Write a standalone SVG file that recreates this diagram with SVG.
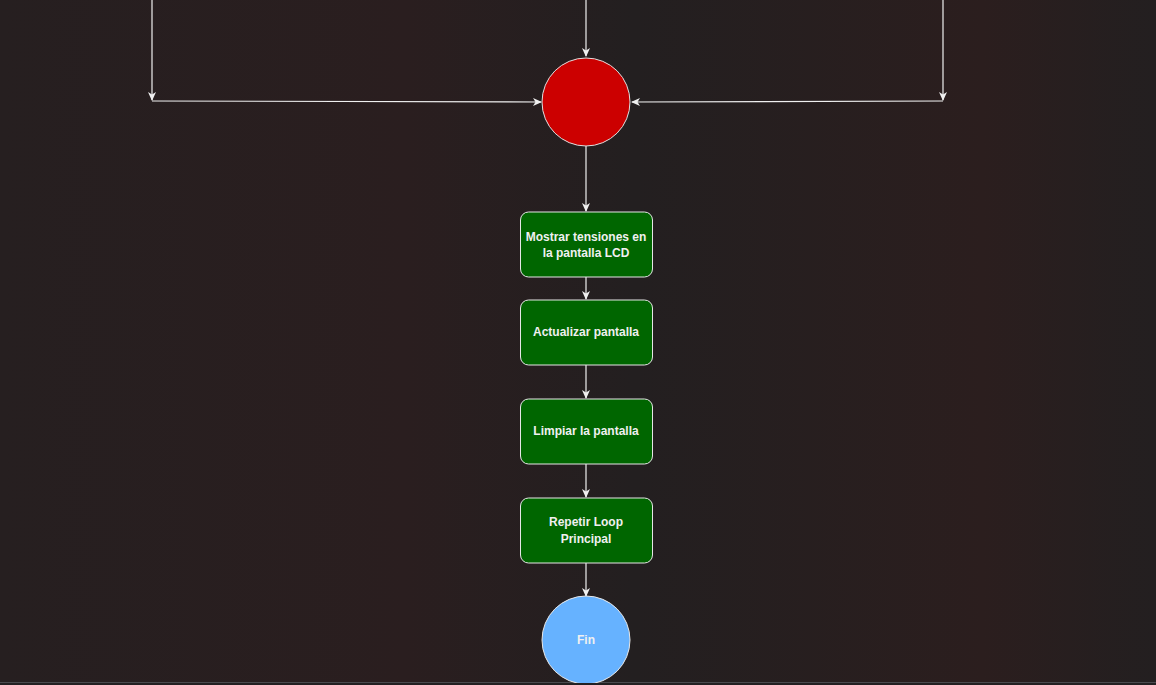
<svg xmlns="http://www.w3.org/2000/svg" width="1156" height="685" viewBox="0 0 1156 685">
<defs>
<linearGradient id="bg" x1="0" y1="0" x2="1" y2="0">
<stop offset="0" stop-color="#261f20"/>
<stop offset="0.35" stop-color="#2a1e1f"/>
<stop offset="0.55" stop-color="#231f20"/>
<stop offset="0.85" stop-color="#2b1e1e"/>
<stop offset="1" stop-color="#231f20"/>
</linearGradient>
<marker id="arr" markerWidth="10" markerHeight="10" refX="8" refY="5" orient="auto" markerUnits="userSpaceOnUse">
<path d="M0,1 L9,5 L0,9 L2.5,5 Z" fill="#f0f0f0"/>
</marker>
<style>
.c{stroke:#f0f0f0;stroke-width:1.2;fill:none}
.b{fill:#006600;stroke:#e6e6e6;stroke-width:1}
.t{font-family:"Liberation Sans",Arial,sans-serif;font-size:12px;font-weight:bold;fill:#f0f0f0;text-anchor:middle}
</style>
</defs>
<rect width="1156" height="685" fill="url(#bg)"/>
<rect y="682" width="1156" height="3" fill="#232022"/>
<line x1="0" y1="682.5" x2="1156" y2="682.5" stroke="#4a4a4e" stroke-width="1"/>
<g id="connectors">
<path class="c" d="M586,0 V56" marker-end="url(#arr)"/>
<path class="c" d="M152,0 V100" marker-end="url(#arr)"/>
<path class="c" d="M152,101 L541,102" marker-end="url(#arr)" stroke="#cfcfcf"/>
<path class="c" d="M943,0 V100" marker-end="url(#arr)"/>
<path class="c" d="M943,101 L632,102" marker-end="url(#arr)" stroke="#cfcfcf"/>
<path class="c" d="M586,146 V211" marker-end="url(#arr)"/>
<path class="c" d="M586,277 V299" marker-end="url(#arr)"/>
<path class="c" d="M586,365 V398" marker-end="url(#arr)"/>
<path class="c" d="M586,464 V497" marker-end="url(#arr)"/>
<path class="c" d="M586,563 V596" marker-end="url(#arr)"/>
</g>
<g id="merge">
<circle cx="586" cy="102" r="44" fill="#cc0000" stroke="#e0e0e0" stroke-width="1"/>
</g>
<g id="mostrar">
<rect class="b" x="520.5" y="212" width="132" height="65" rx="8"/>
<text class="t" x="586" y="241">Mostrar tensiones en</text>
<text class="t" x="586" y="257">la pantalla LCD</text>
</g>
<g id="actualizar">
<rect class="b" x="520.5" y="300" width="132" height="65" rx="8"/>
<text class="t" x="586" y="336">Actualizar pantalla</text>
</g>
<g id="limpiar">
<rect class="b" x="520.5" y="399" width="132" height="65" rx="8"/>
<text class="t" x="586" y="435">Limpiar la pantalla</text>
</g>
<g id="repetir">
<rect class="b" x="520.5" y="498" width="132" height="65" rx="8"/>
<text class="t" x="586" y="526">Repetir Loop</text>
<text class="t" x="586" y="543">Principal</text>
</g>
<g id="fin">
<circle cx="586" cy="640" r="44" fill="#66b2ff" stroke="#e8e8e8" stroke-width="1"/>
<text class="t" x="586" y="644">Fin</text>
</g>
<rect y="683" width="1156" height="2" fill="#232022"/>
</svg>
